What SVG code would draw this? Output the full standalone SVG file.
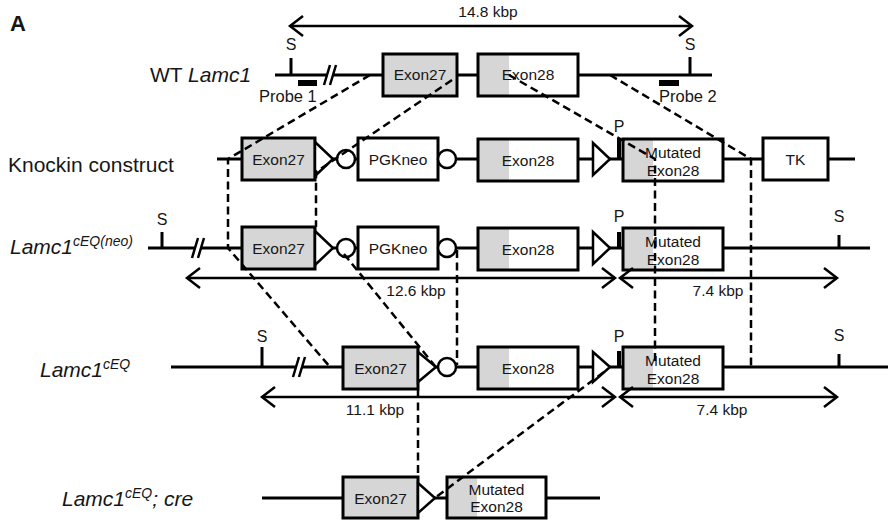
<svg xmlns="http://www.w3.org/2000/svg" width="888" height="521" viewBox="0 0 888 521">
<style>
.ln{stroke:#000;stroke-width:3;fill:none}
.sl{stroke:#000;stroke-width:2.5;fill:none}
.tk{stroke:#000;stroke-width:3;fill:none}
.bw{fill:#fff;stroke:none}
.gr{fill:#d6d6d6;stroke:none}
.bs{fill:none;stroke:#000;stroke-width:3}
.tri{fill:#fff;stroke:#000;stroke-width:2.5;stroke-linejoin:miter}
.cir{fill:#fff;stroke:#000;stroke-width:2.5}
.dash{fill:none;stroke:#000;stroke-width:2.5;stroke-dasharray:8 4.5}
.arr{fill:none;stroke:#000;stroke-width:2.5;marker-start:url(#ah);marker-end:url(#ah)}
text{font-family:"Liberation Sans",Arial,Helvetica,sans-serif;fill:#161616}
.bx{font-size:15.5px;text-anchor:middle}
.sm{font-size:16px;text-anchor:middle}
.pr{font-size:16.5px}
.kb{font-size:15.5px;text-anchor:middle}
.lb{font-size:21px}
.it{font-style:italic}
.sup{font-size:14px;font-style:italic}
</style>
<defs>
<marker id="ah" viewBox="-16 -13 20 26" refX="0" refY="0" markerWidth="20" markerHeight="26" markerUnits="userSpaceOnUse" orient="auto-start-reverse" overflow="visible">
<path d="M-13,-10 L0,0 L-13,10" fill="none" stroke="#000" stroke-width="2.5"/>
</marker>
</defs>
<rect width="888" height="521" fill="#fff"/>

<text x="10" y="31" style="font-size:22px;font-weight:bold">A</text>

<!-- Row labels -->
<g id="label-wt"><text class="lb" x="150" y="82">WT <tspan class="it">Lamc1</tspan></text></g>
<g id="label-knockin"><text class="lb" x="8" y="172">Knockin construct</text></g>
<g id="label-neo"><text class="lb" x="10" y="254"><tspan class="it">Lamc1</tspan><tspan class="sup" dy="-8">cEQ(neo)</tspan></text></g>
<g id="label-ceq"><text class="lb" x="40" y="377"><tspan class="it">Lamc1</tspan><tspan class="sup" dy="-8">cEQ</tspan></text></g>
<g id="label-cre"><text class="lb" x="62" y="506"><tspan class="it">Lamc1</tspan><tspan class="sup" dy="-8">cEQ</tspan><tspan class="it" dy="8">; cre</tspan></text></g>

<!-- Row 1: WT -->
<g id="wt-backbone">
<path class="ln" d="M275,75 H327 M333,75 H712"/>
<path class="sl" d="M324,85 L330,65 M330,85 L336,65"/>
</g>
<g id="wt-s1"><path class="tk" d="M291,75 V58"/><text class="sm" x="291" y="50">S</text></g>
<g id="wt-probe1"><rect x="298" y="80" width="19" height="6" fill="#000"/><text class="pr" x="259" y="102">Probe 1</text></g>
<g id="wt-exon27"><rect class="gr" x="383" y="54" width="74" height="42"/><rect class="bs" x="383" y="54" width="74" height="42"/><text class="bx" x="420" y="80">Exon27</text></g>
<g id="wt-exon28"><rect class="bw" x="478" y="54" width="100" height="42"/><rect class="gr" x="478" y="54" width="31" height="42"/><rect class="bs" x="478" y="54" width="100" height="42"/><text class="bx" x="528" y="80">Exon28</text></g>
<g id="wt-s2"><path class="tk" d="M690,75 V57"/><text class="sm" x="690" y="50">S</text></g>
<g id="wt-probe2"><rect x="659" y="80" width="20" height="6" fill="#000"/><text class="pr" x="659" y="102">Probe 2</text></g>
<g id="wt-size"><path class="arr" d="M290,26 H692"/><text class="kb" x="488" y="17">14.8 kbp</text></g>

<!-- Row 2: Knockin construct -->
<g id="ki-backbone"><path class="ln" d="M217,159 H855"/></g>
<g id="ki-exon27"><rect class="gr" x="242" y="138" width="73" height="42"/><rect class="bs" x="242" y="138" width="73" height="42"/><text class="bx" x="278.5" y="164.5">Exon27</text></g>
<g id="ki-loxp1"><path class="tri" d="M315,142 L333,159 L315,176 Z"/></g>
<g id="ki-frt1"><circle class="cir" cx="346" cy="159" r="9"/></g>
<g id="ki-pgkneo"><rect class="bw" x="358" y="138" width="80" height="42"/><rect class="bs" x="358" y="138" width="80" height="42"/><text class="bx" x="398" y="164.5">PGKneo</text></g>
<g id="ki-frt2"><circle class="cir" cx="447" cy="159" r="9"/></g>
<g id="ki-exon28"><rect class="bw" x="478" y="139" width="100" height="42"/><rect class="gr" x="478" y="139" width="31" height="42"/><rect class="bs" x="478" y="139" width="100" height="42"/><text class="bx" x="528" y="165.5">Exon28</text></g>
<g id="ki-loxp2"><path class="tri" d="M593,143 L610,159 L593,175 Z"/></g>
<g id="ki-p"><rect x="617" y="138" width="4" height="21" fill="#000"/><text class="sm" x="619" y="132">P</text></g>
<g id="ki-mut"><rect class="bw" x="623" y="139" width="100" height="42"/><rect class="gr" x="623" y="139" width="30" height="42"/><rect class="bs" x="623" y="139" width="100" height="42"/><text class="bx" x="673" y="157.5">Mutated</text><text class="bx" x="673" y="175.5">Exon28</text></g>
<g id="ki-tk"><rect class="bw" x="763" y="138" width="65" height="42"/><rect class="bs" x="763" y="138" width="65" height="42"/><text class="bx" x="795.5" y="164.5">TK</text></g>

<!-- Row 3: Lamc1 cEQ(neo) -->
<g id="neo-backbone">
<path class="ln" d="M148,248 H195 M201,248 H870"/>
<path class="sl" d="M192,258 L198,238 M198,258 L204,238"/>
</g>
<g id="neo-s1"><path class="tk" d="M162,248 V232"/><text class="sm" x="162" y="225">S</text></g>
<g id="neo-exon27"><rect class="gr" x="242" y="227" width="73" height="42"/><rect class="bs" x="242" y="227" width="73" height="42"/><text class="bx" x="278.5" y="253.5">Exon27</text></g>
<g id="neo-loxp1"><path class="tri" d="M315,231 L333,248 L315,265 Z"/></g>
<g id="neo-frt1"><circle class="cir" cx="346" cy="248" r="9"/></g>
<g id="neo-pgkneo"><rect class="bw" x="358" y="227" width="80" height="42"/><rect class="bs" x="358" y="227" width="80" height="42"/><text class="bx" x="398" y="253.5">PGKneo</text></g>
<g id="neo-frt2"><circle class="cir" cx="447" cy="248" r="9"/></g>
<g id="neo-exon28"><rect class="bw" x="478" y="228" width="100" height="42"/><rect class="gr" x="478" y="228" width="31" height="42"/><rect class="bs" x="478" y="228" width="100" height="42"/><text class="bx" x="528" y="254.5">Exon28</text></g>
<g id="neo-loxp2"><path class="tri" d="M593,232 L610,248 L593,264 Z"/></g>
<g id="neo-p"><rect x="617" y="232" width="4" height="16" fill="#000"/><text class="sm" x="619" y="222">P</text></g>
<g id="neo-mut"><rect class="bw" x="623" y="228" width="100" height="42"/><rect class="gr" x="623" y="228" width="30" height="42"/><rect class="bs" x="623" y="228" width="100" height="42"/><text class="bx" x="673" y="246.5">Mutated</text><text class="bx" x="673" y="264.5">Exon28</text></g>
<g id="neo-s2"><path class="tk" d="M839,248 V235"/><text class="sm" x="839" y="222">S</text></g>
<g id="neo-size1"><path class="arr" d="M187,278 H615"/><text class="kb" x="416" y="296">12.6 kbp</text></g>
<g id="neo-size2"><path class="arr" d="M620,278 H837"/><text class="kb" x="718" y="296">7.4 kbp</text></g>

<!-- Row 4: Lamc1 cEQ -->
<g id="ceq-backbone">
<path class="ln" d="M171,367 H296 M302,367 H888"/>
<path class="sl" d="M293,377 L299,357 M299,377 L305,357"/>
</g>
<g id="ceq-s1"><path class="tk" d="M262,367 V347"/><text class="sm" x="262" y="342">S</text></g>
<g id="ceq-exon27"><rect class="gr" x="343" y="347" width="75" height="42"/><rect class="bs" x="343" y="347" width="75" height="42"/><text class="bx" x="380.5" y="373.5">Exon27</text></g>
<g id="ceq-loxp1"><path class="tri" d="M418,352 L436,367 L418,382 Z"/></g>
<g id="ceq-frt"><circle class="cir" cx="447" cy="367" r="9"/></g>
<g id="ceq-exon28"><rect class="bw" x="478" y="347" width="100" height="42"/><rect class="gr" x="478" y="347" width="31" height="42"/><rect class="bs" x="478" y="347" width="100" height="42"/><text class="bx" x="528" y="373.5">Exon28</text></g>
<g id="ceq-loxp2"><path class="tri" d="M593,352 L610,367 L593,382 Z"/></g>
<g id="ceq-p"><rect x="617" y="351" width="4" height="16" fill="#000"/><text class="sm" x="619" y="342">P</text></g>
<g id="ceq-mut"><rect class="bw" x="623" y="347" width="100" height="42"/><rect class="gr" x="623" y="347" width="30" height="42"/><rect class="bs" x="623" y="347" width="100" height="42"/><text class="bx" x="673" y="365.5">Mutated</text><text class="bx" x="673" y="383.5">Exon28</text></g>
<g id="ceq-s2"><path class="tk" d="M839,367 V354"/><text class="sm" x="839" y="341">S</text></g>
<g id="ceq-size1"><path class="arr" d="M262,397 H615"/><text class="kb" x="375" y="415">11.1 kbp</text></g>
<g id="ceq-size2"><path class="arr" d="M620,397 H837"/><text class="kb" x="722" y="415">7.4 kbp</text></g>

<!-- Row 5: Lamc1 cEQ; cre -->
<g id="cre-backbone"><path class="ln" d="M262,498 H600"/></g>
<g id="cre-exon27"><rect class="gr" x="343" y="477" width="75" height="41"/><rect class="bs" x="343" y="477" width="75" height="41"/><text class="bx" x="380.5" y="503.5">Exon27</text></g>
<g id="cre-loxp"><path class="tri" d="M418,483 L435,498 L418,513 Z"/></g>
<g id="cre-mut"><rect class="bw" x="447" y="477" width="99" height="41"/><rect class="gr" x="447" y="477" width="30" height="41"/><rect class="bs" x="447" y="477" width="99" height="41"/><text class="bx" x="496.5" y="495">Mutated</text><text class="bx" x="496.5" y="512">Exon28</text></g>

<!-- Connectors -->
<g id="connectors">
<path class="dash" d="M370,75 L228,159 V248 L330,367"/>
<path class="dash" d="M452,80 L316,172 V227"/>
<path class="dash" d="M509,75 L655,159 V365"/>
<path class="dash" d="M610,75 L751,159 V367"/>
<path class="dash" d="M344,254 L435,366"/>
<path class="dash" d="M457,250 V365"/>
<path class="dash" d="M418,390 V477"/>
<path class="dash" d="M604,372 L436,497"/>
</g>
</svg>
